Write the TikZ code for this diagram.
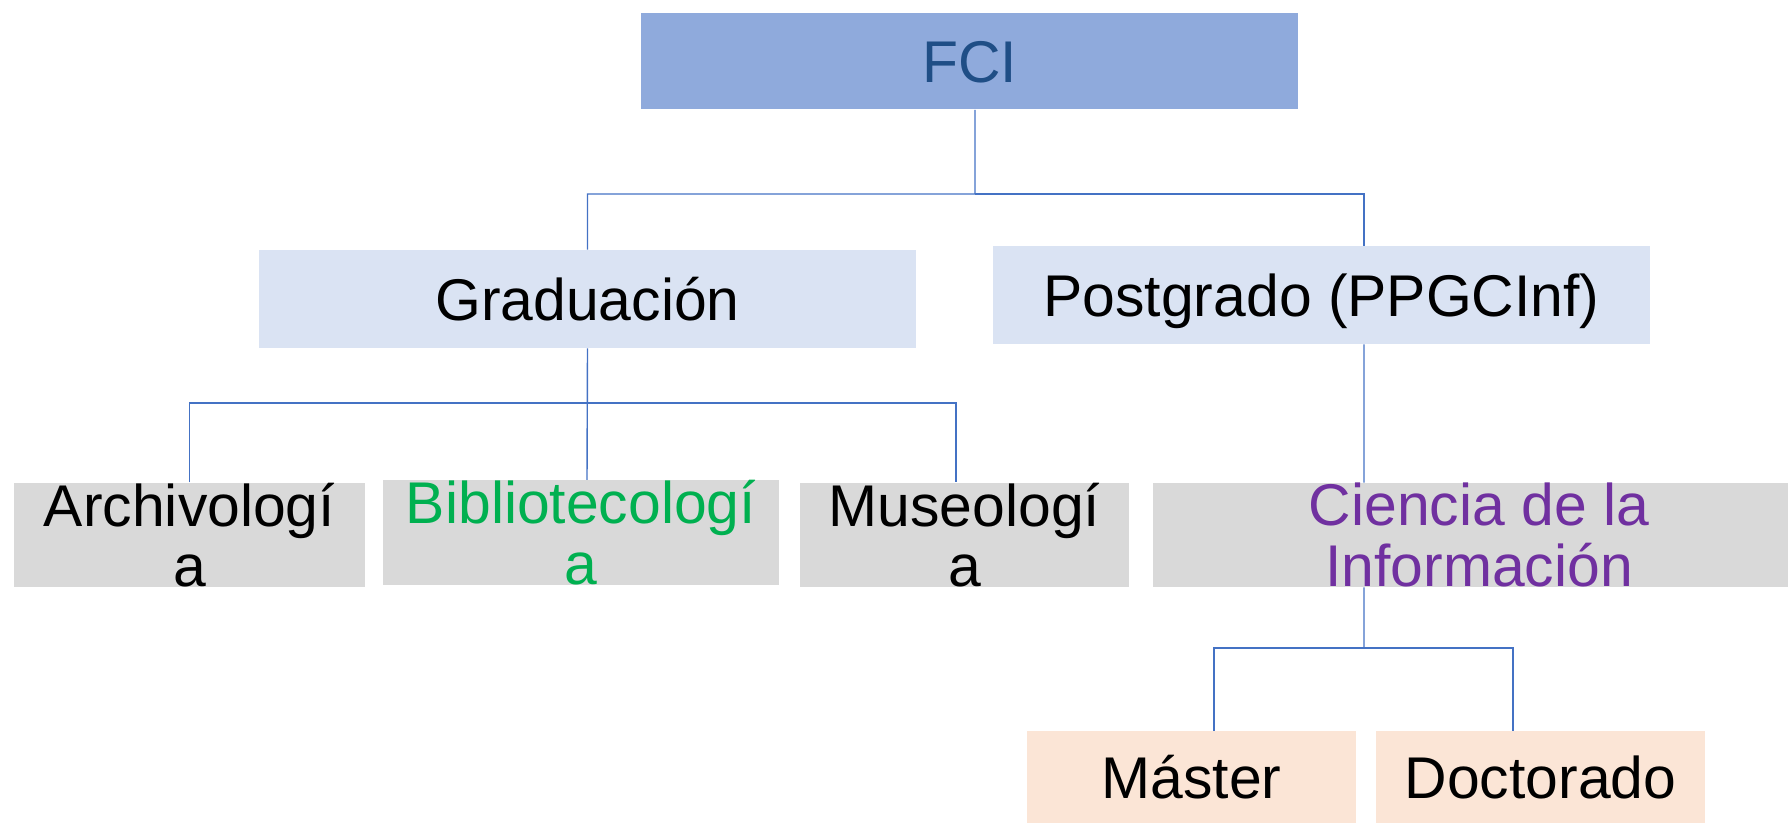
\documentclass[tikz,border=0pt]{standalone}
\usepackage{fontspec}
\setmainfont{Liberation Sans}
\usetikzlibrary{backgrounds}
\definecolor{fcifill}{HTML}{8FAADC}
\definecolor{fcitext}{HTML}{1F4E86}
\definecolor{levelfill}{HTML}{DAE3F3}
\definecolor{coursefill}{HTML}{D9D9D9}
\definecolor{degreefill}{HTML}{FBE5D6}
\definecolor{bibgreen}{HTML}{00B050}
\definecolor{cienpurple}{HTML}{7030A0}
\definecolor{linkblue}{HTML}{4472C4}
\begin{document}
\begin{tikzpicture}[x=0.02cm,y=-0.02cm]
        % Styles
        \tikzstyle{box}=[inner sep=0pt,font=\fontsize{33.5}{34.5}\selectfont,align=center]
        \tikzstyle{one line}=[text height=24pt,text depth=0pt]
        \tikzstyle{top box}=[box,one line,fill=fcifill,text=fcitext,minimum width=13.14cm,minimum height=1.94cm]
        \tikzstyle{level box}=[box,one line,fill=levelfill,minimum width=13.14cm,minimum height=1.96cm]
        \tikzstyle{course box}=[box,fill=coursefill,minimum height=1.96cm]
        \tikzstyle{degree box}=[box,one line,fill=degreefill,minimum width=6.58cm,minimum height=1.84cm]
        \tikzstyle{connector}=[draw=linkblue,line width=0.8pt]
        \useasboundingbox (0,0) rectangle (1788,826);
        %boxes
        \node[top box] (fci) at (969.5,61) {FCI};
        \node[level box] (grad) at (587.5,299) {Graduación};
        \node[level box] (post) at (1321.5,295) {Postgrado (PPGCInf)};
        \node[course box,minimum width=7.02cm] (arch) at (189.5,535) {Archivologí\\a};
        \node[course box,minimum width=7.92cm,text=bibgreen] (bib) at (581,532.5) {Bibliotecologí\\a};
        \node[course box,minimum width=6.58cm] (mus) at (964.5,535) {Museologí\\a};
        \node[course box,minimum width=13.04cm,text=cienpurple] (cien) at (1479,535) {Ciencia de la\\Información};
        \node[degree box] (mas) at (1191.5,777) {Máster};
        \node[degree box] (doc) at (1540.5,777) {Doctorado};
        %connectors
        \coordinate (busA) at (975,194);
        \coordinate (busB) at (587,403);
        \coordinate (busC) at (1364,648);
        \begin{scope}[on background layer]
            \draw[connector] ([xshift=0.11cm]fci.south) -- (busA) -| (grad.north);
            \draw[connector] (busA) -| ([xshift=0.85cm]post.north);
            \draw[connector] (grad.south) -- ([xshift=0.12cm]bib.north);
            \draw[connector] (arch.north) |- (busB) -| ([xshift=-0.17cm]mus.north);
            \draw[connector] ([xshift=0.85cm]post.south) -- ([xshift=-2.3cm]cien.north);
            \draw[connector] ([xshift=-2.3cm]cien.south) -- (busC);
            \draw[connector] ([xshift=0.45cm]mas.north) |- (busC) -| ([xshift=-0.55cm]doc.north);
        \end{scope}
\end{tikzpicture}
\end{document}
